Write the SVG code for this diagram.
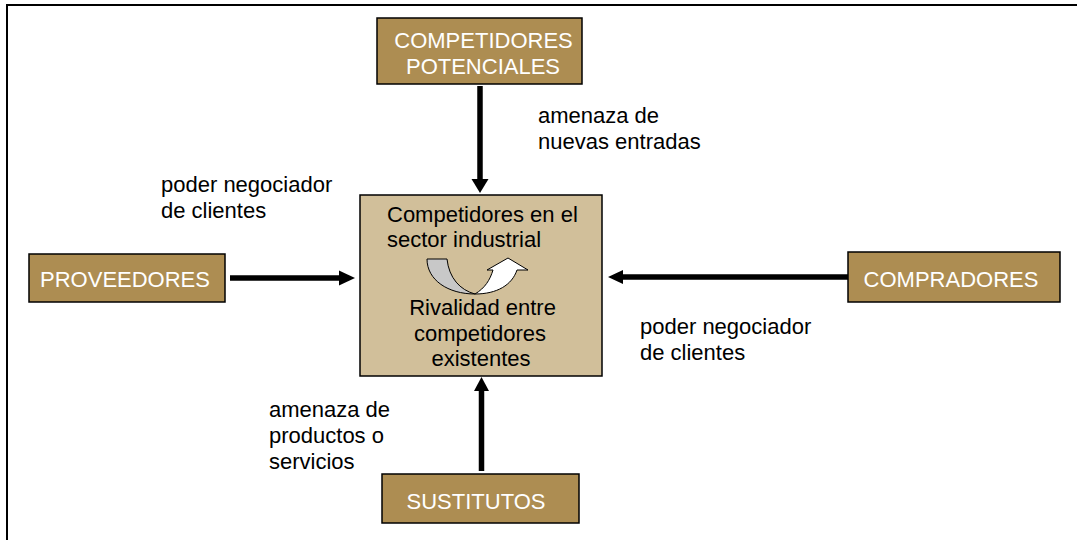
<svg xmlns="http://www.w3.org/2000/svg" width="1078" height="540" viewBox="0 0 1078 540">
<style>
.box{fill:#ad8d52;stroke:#000;stroke-width:1.5}
.core{fill:#d1bf9a;stroke:#000;stroke-width:1.5}
.bt{font-family:"Liberation Sans",Arial,sans-serif;font-size:22px;fill:#fff;text-anchor:middle}
.lb{font-family:"Liberation Sans",Arial,sans-serif;font-size:22px;fill:#000}
.ct{font-family:"Liberation Sans",Arial,sans-serif;font-size:22px;fill:#000;text-anchor:middle}
.ln{stroke:#000;stroke-width:5.5;fill:none}
.hd{fill:#000}
</style>
<rect width="1078" height="540" fill="#fff"/>
<path d="M7 540 V5 H1077" fill="none" stroke="#000" stroke-width="2"/>
<g id="connectors">
<line class="ln" x1="480" y1="86" x2="480" y2="180"/>
<polygon class="hd" points="471.5,179 488.5,179 480,193"/>
<line class="ln" x1="230" y1="278" x2="341" y2="278"/>
<polygon class="hd" points="339,270.5 339,285.5 355,278"/>
<line class="ln" x1="848" y1="277" x2="621" y2="277"/>
<polygon class="hd" points="623,270 623,284 608,277"/>
<line class="ln" x1="481.5" y1="471" x2="481.5" y2="389"/>
<polygon class="hd" points="474,391 489,391 481.5,377"/>
</g>
<g id="node-potenciales">
<rect class="box" x="377" y="18" width="205" height="66"/>
<text class="bt" x="483.5" y="48">COMPETIDORES</text>
<text class="bt" x="483" y="74">POTENCIALES</text>
</g>
<g id="node-sector">
<rect class="core" x="360" y="195" width="242" height="181"/>
<text class="lb" x="387" y="222">Competidores en el</text>
<text class="lb" x="387" y="247">sector industrial</text>
<path d="M427 259 H447 C449 278 460 290 475 294 C448 294 427 280 427 259 Z" fill="#c8c8c8" stroke="#000" stroke-width="1"/>
<path d="M475 294 C485 288 490 280 493 270 H487 L508 258 L528 270 H517 C512 285 497 294 475 294 Z" fill="#fff" stroke="#000" stroke-width="1"/>
<text class="ct" x="482.5" y="315">Rivalidad entre</text>
<text class="ct" x="480" y="341">competidores</text>
<text class="ct" x="481" y="366">existentes</text>
</g>
<g id="node-proveedores">
<rect class="box" x="29" y="254" width="196" height="48"/>
<text class="bt" x="125" y="287">PROVEEDORES</text>
</g>
<g id="node-compradores">
<rect class="box" x="848" y="252" width="212" height="50"/>
<text class="bt" x="951" y="287">COMPRADORES</text>
</g>
<g id="node-sustitutos">
<rect class="box" x="382" y="474" width="197" height="49"/>
<text class="bt" x="476" y="509">SUSTITUTOS</text>
</g>
<g id="labels">
<text class="lb" x="538" y="123">amenaza de</text>
<text class="lb" x="538" y="149">nuevas entradas</text>
<text class="lb" x="161" y="192">poder negociador</text>
<text class="lb" x="161" y="218">de clientes</text>
<text class="lb" x="640" y="334">poder negociador</text>
<text class="lb" x="640" y="360">de clientes</text>
<text class="lb" x="269" y="417">amenaza de</text>
<text class="lb" x="269" y="443">productos o</text>
<text class="lb" x="269" y="469">servicios</text>
</g>
</svg>
